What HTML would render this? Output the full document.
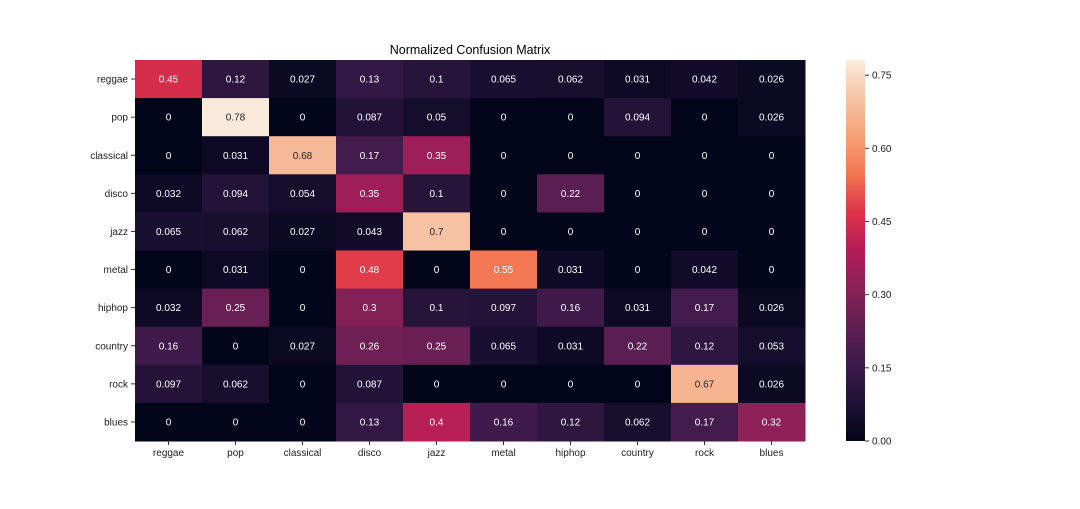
<!DOCTYPE html>
<html><head><meta charset="utf-8"><style>
body{margin:0;background:#fff;}
svg text{font-family:"Liberation Sans",sans-serif;}
</style></head><body>
<svg id="chart" width="1080" height="504" xmlns="http://www.w3.org/2000/svg">
<defs><linearGradient id="cbgrad" x1="0" y1="1" x2="0" y2="0"></linearGradient></defs>
<text x="470" y="54" font-size="12.5" text-anchor="middle">Normalized Confusion Matrix</text>
<g id="cells"></g><g id="labels"></g><g id="cbar"></g>
</svg>
<script>
const genres = ["reggae","pop","classical","disco","jazz","metal","hiphop","country","rock","blues"];
const row0 = [0.45,0.12,0.027,0.13,0.1,0.065,0.062,0.031,0.042,0.026];
const row1 = [0,0.78,0,0.087,0.05,0,0,0.094,0,0.026];
const row2 = [0,0.031,0.68,0.17,0.35,0,0,0,0,0];
const row3 = [0.032,0.094,0.054,0.35,0.1,0,0.22,0,0,0];
const row4 = [0.065,0.062,0.027,0.043,0.7,0,0,0,0,0];
const row5 = [0,0.031,0,0.48,0,0.55,0.031,0,0.042,0];
const row6 = [0.032,0.25,0,0.3,0.1,0.097,0.16,0.031,0.17,0.026];
const row7 = [0.16,0,0.027,0.26,0.25,0.065,0.031,0.22,0.12,0.053];
const row8 = [0.097,0.062,0,0.087,0,0,0,0,0.67,0.026];
const row9 = [0,0,0,0.13,0.4,0.16,0.12,0.062,0.17,0.32];
const matrix = [row0,row1,row2,row3,row4,row5,row6,row7,row8,row9];
const cbTicks = [0,0.15,0.30,0.45,0.60,0.75];
const vmax = 0.781;

const NS="http://www.w3.org/2000/svg";
const L=135,T=60,W=670,H=381,CW=W/10,RH=H/10;
const stops=[[3,5,26],[30,17,53],[61,26,75],[97,31,83],[138,33,87],[179,28,86],[222,50,72],[243,118,81],[246,160,118],[246,195,165],[250,235,221]];
function cmap(t){t=Math.max(0,Math.min(1,t))*(stops.length-1);const i=Math.min(Math.floor(t),stops.length-2),f=t-i;
const a=stops[i],b=stops[i+1];return `rgb(${a.map((v,k)=>Math.round(v+(b[k]-v)*f)).join(",")})`;}
function el(tag,attrs,parent){const e=document.createElementNS(NS,tag);for(const k in attrs)e.setAttribute(k,attrs[k]);parent.appendChild(e);return e;}
const xPos=j=>L+j*CW, yPos=i=>T+i*RH;
const cells=document.getElementById('cells'),labels=document.getElementById('labels'),cbar=document.getElementById('cbar');
matrix.forEach((row,i)=>row.forEach((v,j)=>{
  const r=el('rect',{x:xPos(j),y:yPos(i),width:CW+0.5,height:RH+0.5,fill:cmap(v/vmax)},cells);
  
  
  const t=el('text',{x:xPos(j)+CW/2,y:yPos(i)+RH/2+3.5,'font-size':10,'text-anchor':'middle',fill:v>0.6?'#262626':'#fff'},cells);
  t.textContent=String(v);
  
  
}));
genres.forEach((g,i)=>{
  const y=el('text',{x:L-7,y:yPos(i)+RH/2+3.5,'font-size':10,'text-anchor':'end',fill:'#222'},labels);
  y.textContent=g;
  
  
  el('line',{x1:L-4,x2:L,y1:yPos(i)+RH/2,y2:yPos(i)+RH/2,stroke:'#333'},labels);
  const x=el('text',{x:xPos(i)+CW/2,y:T+H+15,'font-size':10,'text-anchor':'middle',fill:'#222'},labels);
  x.textContent=g;
  
  
  el('line',{x1:xPos(i)+CW/2,x2:xPos(i)+CW/2,y1:T+H,y2:T+H+4,stroke:'#333'},labels);
});
const grad=document.getElementById('cbgrad');
for(let k=0;k<=20;k++)el('stop',{offset:k/20,'stop-color':cmap(k/20)},grad);
const CBX=846,CBW=19;
const cb=el('rect',{x:CBX,y:T,width:CBW,height:H,fill:'url(#cbgrad)'},cbar);


const cy=v=>T+H-v/vmax*H;
cbTicks.forEach(v=>{
  el('line',{x1:CBX+CBW,x2:CBX+CBW+4,y1:cy(v),y2:cy(v),stroke:'#333'},cbar);
  const t=el('text',{x:CBX+CBW+7,y:cy(v)+3.5,'font-size':10,fill:'#222'},cbar);
  t.textContent=v.toFixed(2);
  
  
});
</script>
</body></html>
